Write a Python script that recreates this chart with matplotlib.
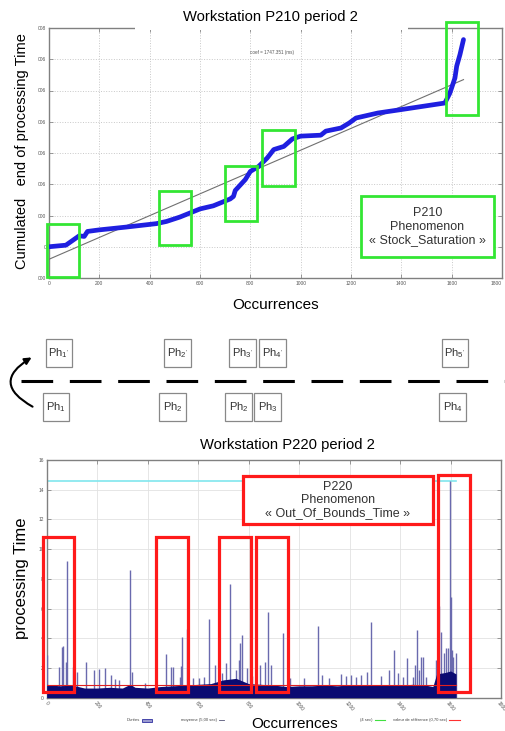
import matplotlib
matplotlib.use("Agg")
import matplotlib.pyplot as plt
from matplotlib.patches import Rectangle, FancyArrowPatch

plt.rcParams['font.family'] = ['Liberation Sans', 'DejaVu Sans']

# ---- top chart : P210 cumulated end of processing time ----
curve_x = [0, 67, 120, 140, 153, 200, 307, 427, 467, 520, 560, 600, 653, 720, 733, 740,
           780, 800, 833, 867, 893, 933, 967, 1000, 1080, 1100, 1160, 1193, 1220, 1307,
           1400, 1573, 1593, 1613, 1620, 1633, 1647]
curve_y = [0.0, 0.05, 0.35, 0.33, 0.49, 0.54, 0.63, 0.74, 0.81, 0.95, 1.08, 1.21, 1.31, 1.53,
           1.61, 1.80, 2.15, 2.41, 2.57, 2.84, 3.11, 3.21, 3.45, 3.54, 3.57, 3.70, 3.80, 3.96,
           4.12, 4.28, 4.39, 4.60, 4.92, 5.40, 5.78, 6.15, 6.63]
fit_intercept = -0.40
fit_slope = 0.00349
top_xticks = [0, 200, 400, 600, 800, 1000, 1200, 1400, 1600, 1800]
top_yticks = [-1, 0, 1, 2, 3, 4, 5, 6, 7]
top_ylabels = ['000', '0', '000', '006', '006', '006', '006', '006', '008']
# green phase boxes (x0, x1, y0, y1)
green_boxes = [(-7, 120, -0.97, 0.74), (436, 563, 0.05, 1.79), (700, 827, 0.84, 2.57),
               (848, 976, 1.96, 3.73), (1577, 1704, 4.23, 7.18)]

# ---- bottom chart : P220 processing time ----
band_x = [0, 50, 100, 150, 200, 250, 300, 330, 350, 400, 450, 500, 550, 600, 650, 700, 750,
          800, 850, 900, 950, 1000, 1050, 1100, 1150, 1200, 1250, 1300, 1350, 1400, 1450,
          1500, 1530, 1545, 1580, 1600, 1622]
band_y = [0.9, 0.8, 0.85, 0.65, 0.65, 0.7, 0.65, 0.9, 0.7, 0.65, 0.75, 0.8, 0.85, 0.9, 0.95,
          1.2, 1.3, 0.95, 0.9, 0.85, 0.75, 0.8, 0.8, 0.85, 0.8, 0.85, 0.85, 0.85, 0.85, 0.85,
          0.9, 0.85, 0.75, 1.6, 1.7, 1.8, 1.6]
spike_x = [3, 50, 59, 66, 76, 79, 103, 121, 156, 189, 208, 231, 254, 270, 287, 330, 336, 389,
           471, 492, 501, 527, 534, 537, 554, 578, 604, 624, 643, 666, 696, 712, 725, 749, 762,
           767, 774, 794, 815, 844, 864, 877, 890, 936, 963, 1018, 1075, 1092, 1118, 1167,
           1187, 1207, 1226, 1246, 1269, 1286, 1325, 1358, 1375, 1391, 1411, 1427, 1451, 1460,
           1466, 1474, 1484, 1490, 1501, 1543, 1556, 1563, 1573, 1582, 1589, 1596, 1600, 1606,
           1611, 1620]
spike_y = [2.88, 2.09, 3.39, 3.48, 2.43, 9.22, 2.09, 1.75, 2.43, 1.87, 1.93, 1.98, 1.53, 1.24,
           1.19, 8.6, 1.75, 0.97, 2.92, 2.09, 2.09, 1.37, 2.13, 4.07, 4.6, 1.3, 1.3, 1.37, 5.28,
           2.2, 1.64, 2.36, 7.64, 1.87, 2.54, 3.66, 4.22, 1.98, 1.46, 2.2, 2.43, 5.8, 2.2, 4.38,
           1.3, 1.3, 4.85, 1.53, 1.3, 1.57, 1.46, 1.53, 1.37, 1.53, 1.75, 5.12, 1.46, 1.87,
           3.21, 1.64, 1.42, 2.65, 1.42, 2.2, 4.56, 1.87, 2.76, 2.76, 1.37, 2.54, 6.18, 4.45,
           2.99, 3.33, 3.33, 14.56, 6.8, 3.21, 2.76, 3.03]
ref_max = 14.56
ref_value = 0.85
last_occ = 1622
bot_xticks = [0, 200, 400, 600, 800, 1000, 1200, 1400, 1600, 1800]
bot_yticks = [0, 2, 4, 6, 8, 10, 12, 14, 16]
red_boxes = [(-16, 108, 0.36, 10.79), (435, 560, 0.36, 10.79), (683, 811, 0.36, 10.79),
             (831, 956, 0.36, 10.79), (1549, 1677, 0.36, 15.02)]

# ---- phase diagram between the charts ----
ph_top_labels = ["1'", "2'", "3'", "4'", "5'"]
ph_top_x = [45.7, 164, 229.3, 259, 441.7]
ph_bot_labels = ["1", "2", "2", "3", "4"]
ph_bot_x = [42.7, 159.3, 225.3, 254.3, 439.3]

fig = plt.figure(figsize=(5.05, 7.31), dpi=100)


def style_axes(ax):
    for s in ax.spines.values():
        s.set_color('#808080')
        s.set_linewidth(1)
    ax.tick_params(direction='in', length=3, width=0.6, colors='#888888', labelsize=3.5,
                   labelcolor='#555555', top=True, right=True, pad=2)


# top chart
ax1 = fig.add_axes([49 / 505, 1 - 278 / 731, 453 / 505, 250 / 731])
style_axes(ax1)
ax1.set_xlim(0, 1800)
ax1.set_ylim(-1, 7)
ax1.set_xticks(top_xticks)
ax1.set_yticks(top_yticks)
ax1.set_yticklabels(top_ylabels)
ax1.get_xticklabels()[-1].set_horizontalalignment('right')
ax1.grid(True, linestyle=':', color='#c8c8c8', linewidth=0.7)
ax1.plot([0, curve_x[-1]], [fit_intercept, fit_intercept + fit_slope * curve_x[-1]],
         color='#707070', lw=0.8, zorder=3)
ax1.plot(curve_x, curve_y, color='#1f1fe0', lw=3.4, solid_capstyle='round', zorder=4)
for x0, x1, y0, y1 in green_boxes:
    ax1.add_patch(Rectangle((x0, y0), x1 - x0, y1 - y0, fill=False, edgecolor='#33e633',
                            lw=2, clip_on=False, zorder=5))
ax1.add_patch(Rectangle((1240, -0.33), 528, 1.94, facecolor='white', edgecolor='#33e633',
                        lw=2, zorder=6))
ax1.text(1504, 0.64, "P210\nPhenomenon\n« Stock_Saturation »", ha='center', va='center',
         fontsize=9, color='#333333', linespacing=1.15, zorder=7)
ax1.text(888, 6.22, "coef = 1747.351 (ms)", ha='center', va='center', fontsize=3.3,
         color='#555555')
ax1.set_xlabel("Occurrences", fontsize=11, labelpad=9)
fig.text(22 / 505, 1 - 151 / 731, "Cumulated   end of processing Time", rotation=90,
         ha='center', va='center', fontsize=10.5)

# bottom chart
ax2 = fig.add_axes([46.7 / 505, 1 - 697.7 / 731, 454.3 / 505, 237.7 / 731])
style_axes(ax2)
ax2.set_xlim(0, 1800)
ax2.set_ylim(0, 16)
ax2.set_xticks(bot_xticks)
ax2.set_xticklabels([str(t) for t in bot_xticks], rotation=-50, ha='center')
ax2.set_yticks(bot_yticks)
ax2.grid(True, linestyle='-', color='#e2e2e2', linewidth=0.6)
ax2.vlines(spike_x, 0, spike_y, color='#6a6aae', lw=1, zorder=3)
ax2.fill_between(band_x, 0, band_y, color='#0b0b72', lw=0, zorder=4)
ax2.plot([0, last_occ], [ref_max, ref_max], color='#80e6ee', lw=1.2, zorder=2)
ax2.plot([0, last_occ], [ref_value, ref_value], color='#e02020', lw=0.8, zorder=5)
for x0, x1, y0, y1 in red_boxes:
    ax2.add_patch(Rectangle((x0, y0), x1 - x0, y1 - y0, fill=False, edgecolor='#ff1a1a',
                            lw=2.3, clip_on=False, zorder=6))
ax2.add_patch(Rectangle((778, 11.69), 751, 3.21, facecolor='white', edgecolor='#ff1a1a',
                        lw=2.3, zorder=6))
ax2.text(1153, 13.3, "P220\nPhenomenon\n« Out_Of_Bounds_Time »", ha='center', va='center',
         fontsize=9, color='#333333', linespacing=1.15, zorder=7)
fig.text(22 / 505, 1 - 578 / 731, "processing Time", rotation=90, ha='center', va='center',
         fontsize=12)
fig.text(295 / 505, 1 - 724 / 731, "Occurrences", ha='center', va='center', fontsize=11)

# overlay in pixel coordinates: titles, phase diagram, tiny legend
ov = fig.add_axes([0, 0, 1, 1])
ov.set_xlim(0, 505)
ov.set_ylim(731, 0)
ov.axis('off')
ov.add_patch(Rectangle((135, 0), 273, 29.5, facecolor='white', edgecolor='none'))
ov.text(270, 17, "Workstation P210 period 2", ha='center', va='center', fontsize=10.6)
ov.text(287, 445, "Workstation P220 period 2", ha='center', va='center', fontsize=10.6)

ov.plot([20.7, 505], [380.7, 380.7], color='black', lw=2.2,
        linestyle=(0, (22.8 / 2.2, 12 / 2.2)))
for lab, x in zip(ph_top_labels, ph_top_x):
    ov.add_patch(Rectangle((x, 339.3), 26.7, 27.4, facecolor='white', edgecolor='#888888',
                           lw=0.9))
    ov.text(x + 13.3, 353, "Ph$_{\\mathregular{%s}}$" % lab, ha='center', va='center',
            fontsize=8, color='#333333')
for lab, x in zip(ph_bot_labels, ph_bot_x):
    ov.add_patch(Rectangle((x, 393.3), 26.7, 27.4, facecolor='white', edgecolor='#888888',
                           lw=0.9))
    ov.text(x + 13.3, 407, "Ph$_{\\mathregular{%s}}$" % lab, ha='center', va='center',
            fontsize=8, color='#333333')
ov.add_patch(FancyArrowPatch((35, 408), (34, 356), connectionstyle="arc3,rad=-0.9",
                             arrowstyle='-|>', mutation_scale=10, lw=1.5, color='black'))

# tiny legend of the bottom chart
lg = dict(fontsize=3, color='#444444', va='center')
ov.text(140, 720, "Durées", ha='right', **lg)
ov.add_patch(Rectangle((142, 718.5), 10, 3, facecolor='#9a9ad0', edgecolor='#3030a0', lw=0.6))
ov.text(217, 720, "moyenne (5,00 sec)", ha='right', **lg)
ov.plot([219, 224], [720, 720], color='#555577', lw=0.6)
ov.text(373, 720, "(4 sec)", ha='right', **lg)
ov.plot([375, 385], [720, 720], color='#40e040', lw=0.8)
ov.text(447, 720, "valeur de référence (0,70 sec)", ha='right', **lg)
ov.plot([449, 460], [720, 720], color='#ff3030', lw=0.8)

fig.savefig('out.png', dpi=100)
